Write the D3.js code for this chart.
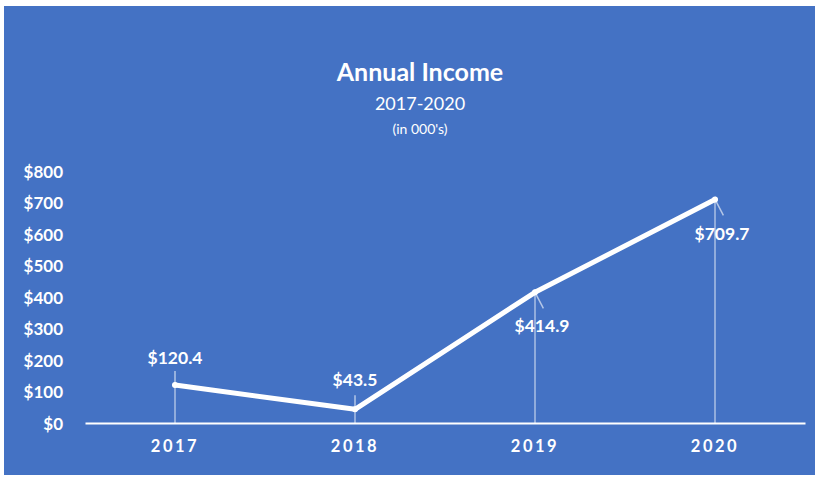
<!DOCTYPE html>
<html>
<head>
<meta charset="utf-8">
<script src="https://cdnjs.cloudflare.com/ajax/libs/d3/7.8.5/d3.min.js"></script>
<style>
  body { margin: 0; background: #fff; }
  text { fill: #fff; }
</style>
</head>
<body>
<div id="chart"></div>
<script>
const years = ['2017', '2018', '2019', '2020'];
const income = [120.4, 43.5, 414.9, 709.7];
const yTicks = [0, 100, 200, 300, 400, 500, 600, 700, 800];
// label offsets relative to the point [dx, dy]
const labelShift = [[0, -27], [0, -29], [7, 34], [7, 34]];

const W = 819, H = 478;
const svg = d3.select('#chart').append('svg').attr('width', W).attr('height', H);

svg.append('rect')
    .attr('x', 4).attr('y', 6).attr('width', 811).attr('height', 469)
    .style('fill', '#4472C4');

svg.append('text').attr('x', 420).attr('y', 81).attr('text-anchor', 'middle')
    .style('font-family', 'Lato').style('font-weight', 'bold').style('font-size', '25px')
    .text('Annual Income');
svg.append('text').attr('x', 420).attr('y', 110).attr('text-anchor', 'middle')
    .style('font-family', 'Lato').style('font-size', '18px')
    .text('2017-2020');
svg.append('text').attr('x', 420).attr('y', 134).attr('text-anchor', 'middle')
    .style('font-family', 'Lato').style('font-size', '14px')
    .text("(in 000's)");

const x = d3.scaleBand().domain(years).range([85, 805]);
const y = d3.scaleLinear().domain([0, 800]).range([423, 171]);
const cx = d => x(d) + x.bandwidth() / 2;

// y axis labels
const yAxis = svg.append('g').attr('transform', 'translate(63,0)')
    .call(d3.axisLeft(y).tickValues(yTicks).tickSize(0).tickPadding(0).tickFormat(d => '$' + d));
yAxis.select('.domain').remove();
yAxis.selectAll('text')
    .style('fill', '#fff').style('font-family', 'Lato').style('font-weight', 'bold')
    .style('font-size', '17px').attr('dy', '0.36em');

// x axis
const xAxis = svg.append('g').attr('transform', 'translate(0,423)')
    .call(d3.axisBottom(x).tickSize(0).tickPadding(17));
xAxis.select('.domain').style('stroke', '#fff').style('stroke-width', 2);
xAxis.selectAll('text')
    .style('fill', '#fff').style('font-family', 'Lato').style('font-weight', 'bold')
    .style('font-size', '16.5px').style('letter-spacing', '2.5px').attr('dy', '0.7em');

// drop lines
svg.selectAll('.drop').data(years).join('line')
    .attr('x1', d => cx(d)).attr('x2', d => cx(d))
    .attr('y1', (d, i) => y(income[i])).attr('y2', y(0))
    .style('stroke', 'rgba(255,255,255,0.55)').style('stroke-width', 1.5);

// leader lines
svg.selectAll('.leader').data(years).join('line')
    .attr('x1', d => cx(d)).attr('y1', (d, i) => y(income[i]))
    .attr('x2', (d, i) => cx(d) + labelShift[i][0] * 1.2)
    .attr('y2', (d, i) => y(income[i]) + (labelShift[i][1] > 0 ? 16 : -14))
    .style('stroke', 'rgba(255,255,255,0.6)').style('stroke-width', 1.5);

// line
const line = d3.line().x((d, i) => cx(years[i])).y(d => y(d));
svg.append('path').datum(income)
    .attr('d', line)
    .style('fill', 'none').style('stroke', '#fff').style('stroke-width', 5)
    .style('stroke-linejoin', 'round').style('stroke-linecap', 'round');

svg.selectAll('.pt').data(income).join('circle')
    .attr('cx', (d, i) => cx(years[i])).attr('cy', d => y(d)).attr('r', 3)
    .style('fill', '#fff');

// data labels
svg.selectAll('.lbl').data(income).join('text')
    .attr('x', (d, i) => cx(years[i]) + labelShift[i][0])
    .attr('y', (d, i) => y(d) + labelShift[i][1])
    .attr('text-anchor', 'middle').attr('dy', '0.35em')
    .style('font-family', 'Lato').style('font-weight', 'bold').style('font-size', '17.5px')
    .text(d => '$' + d.toFixed(1));
</script>
</body>
</html>
